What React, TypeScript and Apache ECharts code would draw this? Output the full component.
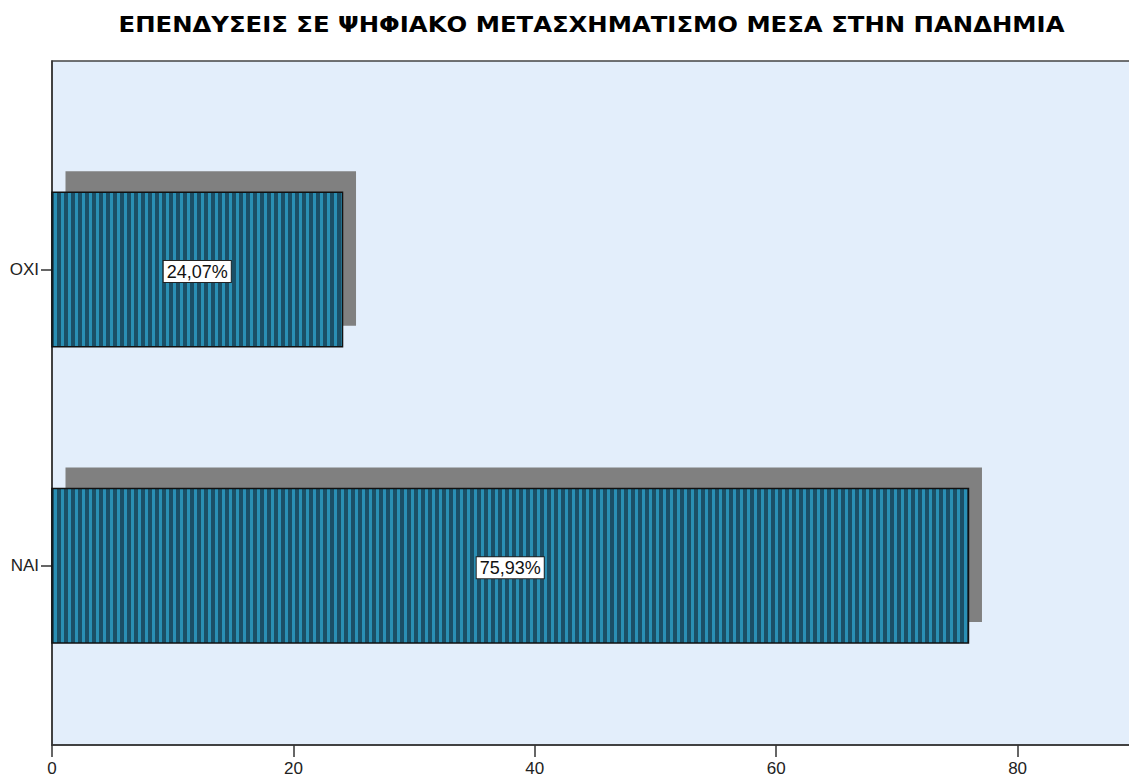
import React, { useEffect, useRef } from "react";
import * as echarts from "echarts";

const TITLE = "ΕΠΕΝΔΥΣΕΙΣ ΣΕ ΨΗΦΙΑΚΟ ΜΕΤΑΣΧΗΜΑΤΙΣΜΟ ΜΕΣΑ ΣΤΗΝ ΠΑΝΔΗΜΙΑ";
const categories = ["NAI", "OXI"];
const values = [75.93, 24.07];
const valueLabels = ["75,93%", "24,07%"];
const xTicks = [0, 20, 40, 60, 80, 100];

const FONT = "'Liberation Sans', Arial, sans-serif";
const TITLE_FONT = "bold 22px 'DejaVu Sans', sans-serif";
const TITLE_WIDTH = 947;
const BAR_H = 0.5214;

function measure(text: string, font: string): number {
  const c = document.createElement("canvas").getContext("2d");
  if (!c) return TITLE_WIDTH;
  c.font = font;
  return c.measureText(text).width;
}

export default function App() {
  const ref = useRef<HTMLDivElement>(null);
  useEffect(() => {
    if (!ref.current) return;
    const chart = echarts.init(ref.current, null, { renderer: "svg" });
    const data = values.map((v, i) => [v, i, valueLabels[i]]);
    const tw = measure(TITLE, TITLE_FONT);
    const sx = tw > 0 ? TITLE_WIDTH / tw : 1;
    chart.setOption({
      animation: false,
      backgroundColor: "#ffffff",
      graphic: [
        {
          type: "text",
          x: 591.5,
          y: 24,
          scaleX: sx,
          style: {
            text: TITLE,
            align: "center",
            verticalAlign: "middle",
            font: TITLE_FONT,
            fill: "#000",
          },
        },
      ],
      grid: {
        left: 52,
        top: 61,
        width: 1207,
        height: 684,
        outerBoundsMode: "none",
        containLabel: false,
        show: true,
        backgroundColor: "#e3eefb",
        borderColor: "#444",
        borderWidth: 1.5,
      },
      xAxis: {
        type: "value",
        min: xTicks[0],
        max: xTicks[xTicks.length - 1],
        interval: 20,
        axisLine: { show: true, onZero: false, lineStyle: { color: "#333", width: 1.5 } },
        axisTick: { show: true, length: 12, lineStyle: { color: "#333", width: 1.5 } },
        axisLabel: {
          margin: 15,
          fontSize: 17,
          lineHeight: 17,
          color: "#222",
          fontFamily: FONT,
          showMaxLabel: false,
        },
        splitLine: { show: false },
      },
      yAxis: {
        type: "value",
        min: -0.6048,
        max: 1.7037,
        axisLine: { show: true, onZero: false, lineStyle: { color: "#333", width: 1.5 } },
        axisTick: { show: true, length: 11, customValues: [0, 1], lineStyle: { color: "#333", width: 1.5 } },
        axisLabel: {
          customValues: [0, 1],
          margin: 13,
          fontSize: 17,
          color: "#222",
          fontFamily: FONT,
          formatter: (v: number) => categories[Math.round(v)] ?? "",
        },
        splitLine: { show: false },
      },
      series: [
        {
          type: "custom",
          data,
          encode: { x: 0, y: 1 },
          renderItem: (params: any, api: any) => {
            const v = api.value(0);
            const idx = api.value(1);
            const start = api.coord([0, idx]);
            const end = api.coord([v, idx]);
            const h = api.size([0, BAR_H])[1];
            const x0 = start[0];
            const x1 = end[0];
            const top = start[1] - h / 2;
            const w = x1 - x0;
            const children: any[] = [];
            children.push({
              type: "rect",
              shape: { x: x0 + 13.5, y: top - 21, width: w, height: h },
              style: { fill: "#808080" },
            });
            children.push({
              type: "rect",
              shape: { x: x0, y: top, width: w, height: h },
              style: { fill: "#1b4f66" },
            });
            for (let s = x0 + 2; s < x1 - 1; s += 7) {
              children.push({
                type: "rect",
                shape: { x: s, y: top, width: Math.min(3, x1 - s), height: h },
                style: { fill: "#2a8fb4" },
              });
            }
            children.push({
              type: "rect",
              shape: { x: x0, y: top, width: w, height: h },
              style: { fill: "none", stroke: "#111", lineWidth: 1.5 },
            });
            children.push({
              type: "text",
              x: (x0 + x1) / 2,
              y: start[1] + 2,
              style: {
                text: valueLabels[params.dataIndex],
                align: "center",
                verticalAlign: "middle",
                font: `18px ${FONT}`,
                fill: "#111",
                backgroundColor: "#ffffff",
                borderColor: "#222",
                borderWidth: 1,
                padding: [2, 3, 1, 3],
              },
            });
            return { type: "group", children };
          },
        },
      ],
    });
    return () => chart.dispose();
  }, []);
  return (
    <div
      ref={ref}
      style={{ position: "absolute", left: 0, top: 0, width: 1129, height: 778 }}
    />
  );
}
